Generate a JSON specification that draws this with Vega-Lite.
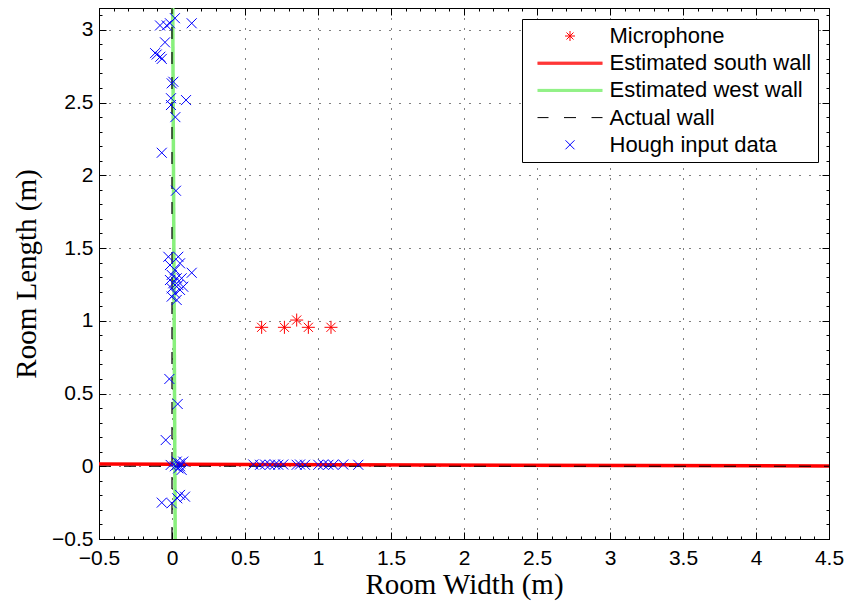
{
  "$schema": "https://vega.github.io/schema/vega-lite/v6.json",
  "width": 730,
  "height": 531,
  "autosize": {"type": "none"},
  "padding": {"left": 99, "top": 8, "right": 17, "bottom": 64},
  "background": "white",
  "config": {
    "view": {"stroke": "black", "strokeWidth": 1},
    "axis": {
      "labelFont": "Liberation Sans",
      "labelFontSize": 21,
      "labelColor": "black",
      "tickColor": "black",
      "domainColor": "black",
      "titleColor": "black",
      "titleFont": "Liberation Serif",
      "titleFontSize": 29,
      "titleFontWeight": "normal",
      "labelOverlap": false,
      "labelFlush": false,
      "labelBound": false
    }
  },
  "datasets": {
    "mics": [
      {"x": 0.614, "y": 0.955}, {"x": 0.77, "y": 0.955}, {"x": 0.854, "y": 1.005},
      {"x": 0.934, "y": 0.955}, {"x": 1.089, "y": 0.955}
    ],
    "south": [{"x": -0.5, "y": 0.015}, {"x": 4.5, "y": 0.002}],
    "west": [{"x": 0.022, "y": -0.5}, {"x": 0.005, "y": 3.15}],
    "actual": [
      {"seg": "h", "x": -0.5, "y": 0}, {"seg": "h", "x": 4.5, "y": 0},
      {"seg": "v", "x": 0, "y": -0.5}, {"seg": "v", "x": 0, "y": 3.15}
    ],
    "hough": [
      {"x": 0.02, "y": 3.08}, {"x": -0.014, "y": 3.045}, {"x": -0.082, "y": 3.03}, {"x": -0.036, "y": 3.03},
      {"x": 0.135, "y": 3.045}, {"x": -0.048, "y": 2.914}, {"x": -0.116, "y": 2.84}, {"x": -0.105, "y": 2.83},
      {"x": -0.07, "y": 2.8}, {"x": -0.08, "y": 2.815}, {"x": 0.009, "y": 2.643}, {"x": -0.002, "y": 2.632},
      {"x": -0.007, "y": 2.53}, {"x": -0.007, "y": 2.483}, {"x": 0.096, "y": 2.517}, {"x": 0.023, "y": 2.4},
      {"x": -0.07, "y": 2.155}, {"x": 0.027, "y": 1.894},
      {"x": -0.025, "y": 1.44}, {"x": 0.043, "y": 1.44}, {"x": -0.014, "y": 1.383}, {"x": 0.055, "y": 1.395},
      {"x": 0.135, "y": 1.33}, {"x": 0.02, "y": 1.35}, {"x": -0.002, "y": 1.315}, {"x": 0.032, "y": 1.292},
      {"x": 0.066, "y": 1.292}, {"x": 0.009, "y": 1.258}, {"x": 0.043, "y": 1.246}, {"x": -0.002, "y": 1.223},
      {"x": 0.055, "y": 1.212}, {"x": 0.02, "y": 1.189}, {"x": -0.002, "y": 1.166}, {"x": 0.032, "y": 1.143},
      {"x": 0.077, "y": 1.234}, {"x": -0.014, "y": 1.28},
      {"x": -0.018, "y": 0.6}, {"x": 0.039, "y": 0.428}, {"x": -0.043, "y": 0.18},
      {"x": -0.009, "y": 0.009}, {"x": 0.032, "y": 0.032}, {"x": 0.055, "y": 0.02}, {"x": 0.077, "y": 0.032},
      {"x": 0.043, "y": -0.014}, {"x": 0.066, "y": -0.025}, {"x": 0.02, "y": 0.0}, {"x": 0.055, "y": 0.0},
      {"x": 0.055, "y": -0.197}, {"x": 0.089, "y": -0.209}, {"x": 0.036, "y": -0.22}, {"x": -0.002, "y": -0.254},
      {"x": -0.07, "y": -0.25},
      {"x": 0.557, "y": 0.012}, {"x": 0.603, "y": 0.01}, {"x": 0.637, "y": 0.012}, {"x": 0.671, "y": 0.01},
      {"x": 0.705, "y": 0.012}, {"x": 0.728, "y": 0.01}, {"x": 0.762, "y": 0.012}, {"x": 0.854, "y": 0.01},
      {"x": 0.877, "y": 0.012}, {"x": 0.911, "y": 0.01}, {"x": 1.002, "y": 0.01}, {"x": 1.036, "y": 0.012},
      {"x": 1.071, "y": 0.01}, {"x": 1.105, "y": 0.01}, {"x": 1.173, "y": 0.012}, {"x": 1.276, "y": 0.01}
    ],
    "legend": [
      {"series": "Microphone"}, {"series": "Estimated south wall"}, {"series": "Estimated west wall"},
      {"series": "Actual wall"}, {"series": "Hough input data"}
    ]
  },
  "layer": [
    {
      "data": {"name": "mics"},
      "mark": {"type": "point", "shape": "M0,-1V1M-1,0H1M-0.7,-0.7L0.7,0.7M-0.7,0.7L0.7,-0.7", "filled": false, "size": 170, "color": "#ff0000", "strokeWidth": 1, "opacity": 1, "clip": true},
      "encoding": {
        "x": {
          "field": "x", "type": "quantitative",
          "scale": {"domain": [-0.5, 4.5], "nice": false, "zero": false},
          "axis": {
            "orient": "bottom",
            "values": [-0.5,-0.4,-0.3,-0.2,-0.1,0,0.1,0.2,0.3,0.4,0.5,0.6,0.7,0.8,0.9,1,1.1,1.2,1.3,1.4,1.5,1.6,1.7,1.8,1.9,2,2.1,2.2,2.3,2.4,2.5,2.6,2.7,2.8,2.9,3,3.1,3.2,3.3,3.4,3.5,3.6,3.7,3.8,3.9,4,4.1,4.2,4.3,4.4,4.5],
            "format": "~g",
            "labelExpr": "abs(datum.value*2-round(datum.value*2))<0.001 ? datum.label : ''",
            "tickSize": {"condition": {"test": "abs(datum.value*2-round(datum.value*2))<0.001", "value": -7}, "value": -3},
            "grid": true,
            "gridColor": "black",
            "gridDash": [1, 9],
            "gridOpacity": {"condition": {"test": "abs(datum.value*2-round(datum.value*2))<0.001", "value": 1}, "value": 0},
            "labelPadding": 15,
            "title": "Room Width (m)",
            "titlePadding": -2
          }
        },
        "y": {
          "field": "y", "type": "quantitative",
          "scale": {"domain": [-0.5, 3.15], "nice": false, "zero": false},
          "axis": {
            "orient": "left",
            "values": [-0.5,-0.4,-0.3,-0.2,-0.1,0,0.1,0.2,0.3,0.4,0.5,0.6,0.7,0.8,0.9,1,1.1,1.2,1.3,1.4,1.5,1.6,1.7,1.8,1.9,2,2.1,2.2,2.3,2.4,2.5,2.6,2.7,2.8,2.9,3,3.1],
            "format": "~g",
            "labelExpr": "abs(datum.value*2-round(datum.value*2))<0.001 ? datum.label : ''",
            "tickSize": {"condition": {"test": "abs(datum.value*2-round(datum.value*2))<0.001", "value": -7}, "value": -3},
            "grid": true,
            "gridColor": "black",
            "gridDash": [1, 9],
            "gridOpacity": {"condition": {"test": "abs(datum.value*2-round(datum.value*2))<0.001", "value": 1}, "value": 0},
            "labelPadding": 13,
            "title": "Room Length (m)",
            "titlePadding": 10
          }
        }
      }
    },
    {
      "data": {"name": "south"},
      "mark": {"type": "line", "color": "#ff0000", "strokeWidth": 3.5, "clip": true},
      "encoding": {
        "x": {"field": "x", "type": "quantitative", "scale": {"domain": [-0.5, 4.5], "nice": false, "zero": false}, "axis": null},
        "y": {"field": "y", "type": "quantitative", "scale": {"domain": [-0.5, 3.15], "nice": false, "zero": false}, "axis": null}
      }
    },
    {
      "data": {"name": "west"},
      "mark": {"type": "line", "color": "#88f07c", "strokeWidth": 3.5, "clip": true},
      "encoding": {
        "x": {"field": "x", "type": "quantitative", "scale": {"domain": [-0.5, 4.5], "nice": false, "zero": false}, "axis": null},
        "y": {"field": "y", "type": "quantitative", "scale": {"domain": [-0.5, 3.15], "nice": false, "zero": false}, "axis": null}
      }
    },
    {
      "data": {"name": "actual"},
      "mark": {"type": "line", "color": "#000000", "strokeWidth": 1.2, "strokeDash": [12, 13], "clip": true},
      "encoding": {
        "x": {"field": "x", "type": "quantitative", "scale": {"domain": [-0.5, 4.5], "nice": false, "zero": false}, "axis": null},
        "y": {"field": "y", "type": "quantitative", "scale": {"domain": [-0.5, 3.15], "nice": false, "zero": false}, "axis": null},
        "detail": {"field": "seg", "type": "nominal"}
      }
    },
    {
      "data": {"name": "hough"},
      "mark": {"type": "point", "shape": "M-1,-1L1,1M-1,1L1,-1", "filled": false, "size": 100, "color": "#0000ff", "strokeWidth": 1, "opacity": 1, "clip": true},
      "encoding": {
        "x": {
          "field": "x", "type": "quantitative",
          "scale": {"domain": [-0.5, 4.5], "nice": false, "zero": false},
          "axis": {
            "orient": "top",
            "values": [-0.5,-0.4,-0.3,-0.2,-0.1,0,0.1,0.2,0.3,0.4,0.5,0.6,0.7,0.8,0.9,1,1.1,1.2,1.3,1.4,1.5,1.6,1.7,1.8,1.9,2,2.1,2.2,2.3,2.4,2.5,2.6,2.7,2.8,2.9,3,3.1,3.2,3.3,3.4,3.5,3.6,3.7,3.8,3.9,4,4.1,4.2,4.3,4.4,4.5],
            "labels": false,
            "domain": false,
            "grid": false,
            "tickSize": {"condition": {"test": "abs(datum.value*2-round(datum.value*2))<0.001", "value": -7}, "value": -3},
            "title": null
          }
        },
        "y": {
          "field": "y", "type": "quantitative",
          "scale": {"domain": [-0.5, 3.15], "nice": false, "zero": false},
          "axis": {
            "orient": "right",
            "values": [-0.5,-0.4,-0.3,-0.2,-0.1,0,0.1,0.2,0.3,0.4,0.5,0.6,0.7,0.8,0.9,1,1.1,1.2,1.3,1.4,1.5,1.6,1.7,1.8,1.9,2,2.1,2.2,2.3,2.4,2.5,2.6,2.7,2.8,2.9,3,3.1],
            "labels": false,
            "domain": false,
            "grid": false,
            "tickSize": {"condition": {"test": "abs(datum.value*2-round(datum.value*2))<0.001", "value": -7}, "value": -3},
            "title": null
          }
        }
      }
    },
    {
      "data": {"name": "legend"},
      "mark": {"type": "point", "filled": false, "opacity": 0, "size": 100, "strokeWidth": 1},
      "encoding": {
        "color": {
          "field": "series", "type": "nominal",
          "scale": {
            "domain": ["Microphone", "Estimated south wall", "Estimated west wall", "Actual wall", "Hough input data"],
            "range": ["#ff0000", "#ff0000", "#88f07c", "#000000", "#0000ff"]
          },
          "legend": {
            "title": null,
            "orient": "top-right",
            "offset": 11,
            "padding": 6,
            "strokeColor": "black",
            "fillColor": "white",
            "labelFont": "Liberation Sans",
            "labelFontSize": 22,
            "labelColor": "black",
            "labelLimit": 400,
            "symbolSize": 100,
            "symbolOffset": 31,
            "labelOffset": 28.5,
            "rowPadding": 5.2,
            "symbolStrokeWidth": 1
          }
        },
        "shape": {
          "field": "series", "type": "nominal",
          "scale": {
            "domain": ["Microphone", "Estimated south wall", "Estimated west wall", "Actual wall", "Hough input data"],
            "range": [
              "M0,-1V1M-1,0H1M-0.7,-0.7L0.7,0.7M-0.7,0.7L0.7,-0.7",
              "M-6.5,-0.2H6.5M-6.5,0H6.5M-6.5,0.2H6.5",
              "M-6.5,-0.2H6.5M-6.5,0H6.5M-6.5,0.2H6.5",
              "M-6.5,0H-4.3M-1.2,0H1.2M4.3,0H6.5",
              "M-0.9,-0.9L0.9,0.9M-0.9,0.9L0.9,-0.9"
            ]
          },
          "legend": {
            "title": null,
            "orient": "top-right",
            "offset": 11,
            "padding": 6,
            "strokeColor": "black",
            "fillColor": "white",
            "labelFont": "Liberation Sans",
            "labelFontSize": 22,
            "labelColor": "black",
            "labelLimit": 400,
            "symbolSize": 100,
            "symbolOffset": 31,
            "labelOffset": 28.5,
            "rowPadding": 5.2,
            "symbolStrokeWidth": 1
          }
        }
      }
    }
  ],
  "resolve": {"axis": {"x": "independent", "y": "independent"}}
}
